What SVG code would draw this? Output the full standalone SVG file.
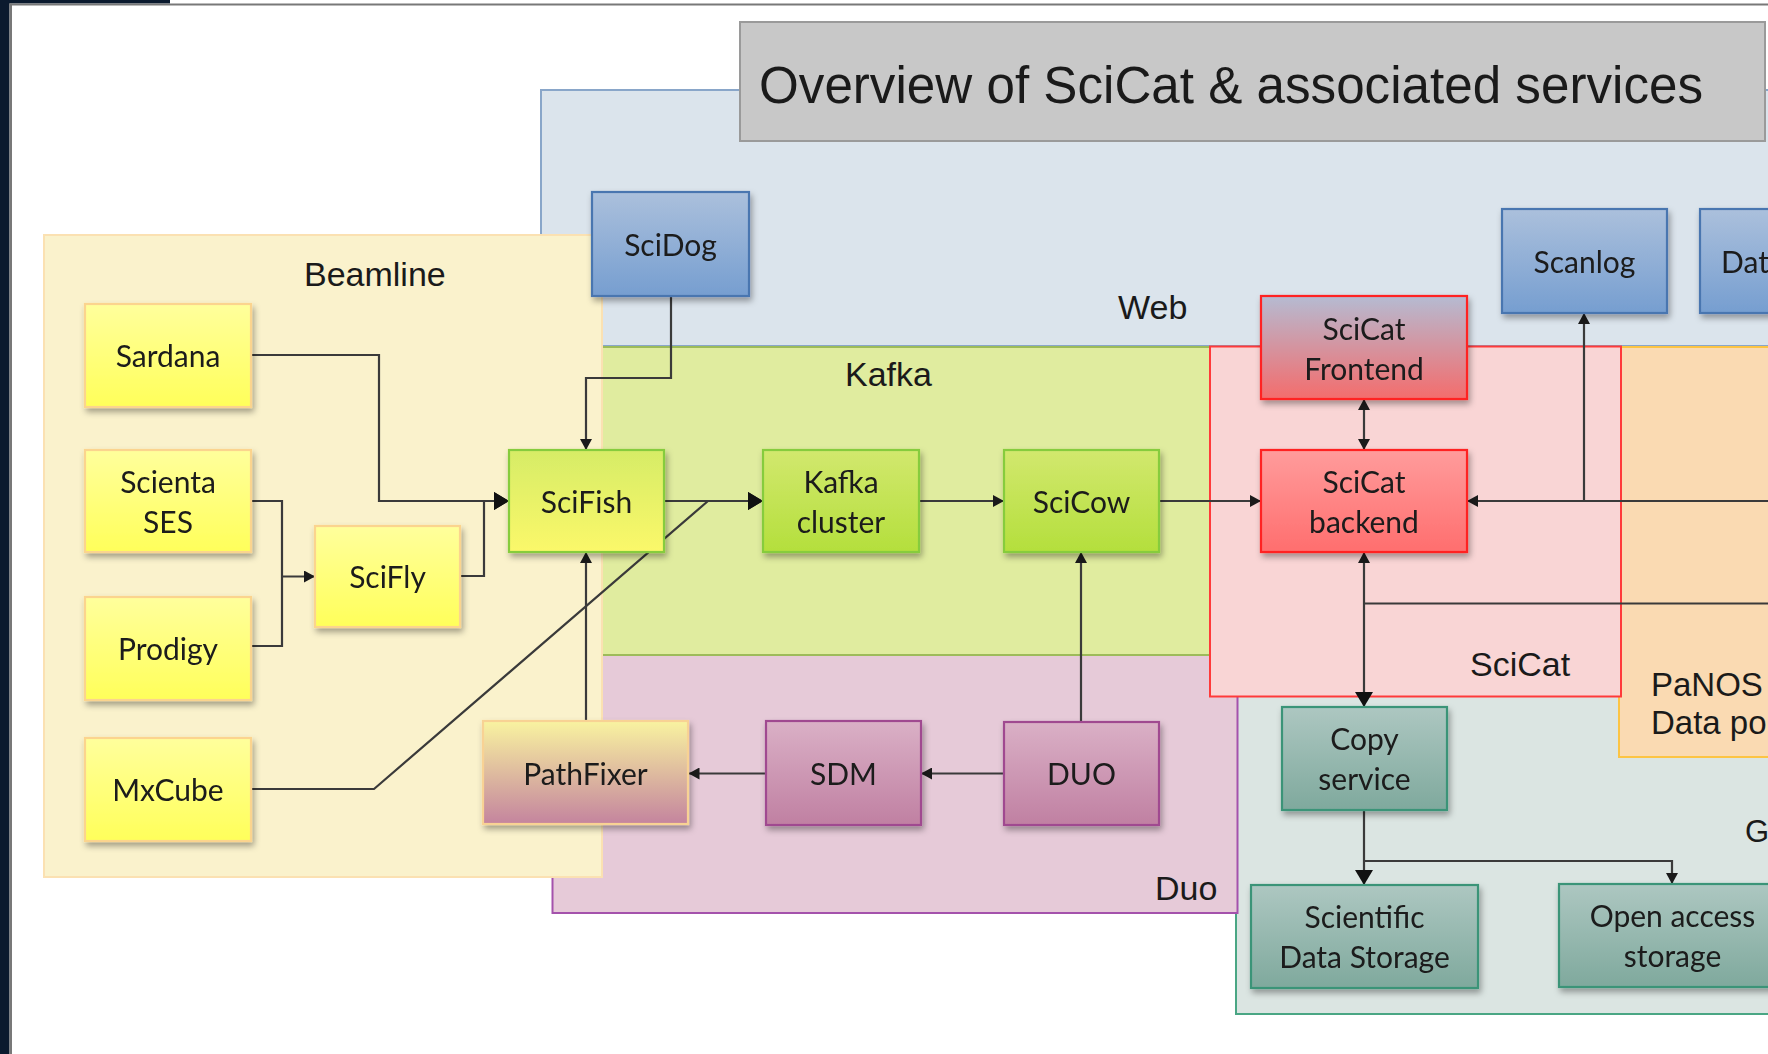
<svg xmlns="http://www.w3.org/2000/svg" width="1768" height="1054" viewBox="0 0 1768 1054">
<style>
.reg{stroke-width:2}
.rl{font-family:"Liberation Sans",Arial,sans-serif;font-size:34px;fill:#1a1a1a}
.nt{font-family:Lato,"Open Sans",sans-serif;font-size:30px;fill:#1a1a1a;text-anchor:middle}
.node rect{stroke-width:2.2}
.c{fill:none;stroke:#3a3a3a;stroke-width:2.2}
</style>
<defs>
<filter id="sh" x="-10%" y="-10%" width="130%" height="140%">
<feDropShadow dx="2" dy="4" stdDeviation="3" flood-color="#000" flood-opacity="0.35"/>
</filter>
<linearGradient id="gY" x1="0" y1="0" x2="0" y2="1"><stop offset="0" stop-color="#ffff9c"/><stop offset="1" stop-color="#ffff5a"/></linearGradient>
<linearGradient id="gB" x1="0" y1="0" x2="0" y2="1"><stop offset="0" stop-color="#abc0dc"/><stop offset="1" stop-color="#769ed0"/></linearGradient>
<linearGradient id="gG" x1="0" y1="0" x2="0" y2="1"><stop offset="0" stop-color="#d2e86e"/><stop offset="1" stop-color="#b4df3c"/></linearGradient>
<linearGradient id="gF" x1="0" y1="0" x2="0" y2="1"><stop offset="0" stop-color="#d6ec66"/><stop offset="1" stop-color="#fbf86a"/></linearGradient>
<linearGradient id="gR" x1="0" y1="0" x2="0" y2="1"><stop offset="0" stop-color="#ff9c9c"/><stop offset="1" stop-color="#ff6e6e"/></linearGradient>
<linearGradient id="gRF" x1="0" y1="0" x2="0" y2="1"><stop offset="0" stop-color="#b5bbd2"/><stop offset="1" stop-color="#f46c6c"/></linearGradient>
<linearGradient id="gP" x1="0" y1="0" x2="0" y2="1"><stop offset="0" stop-color="#dab0c6"/><stop offset="1" stop-color="#c080a2"/></linearGradient>
<linearGradient id="gPF" x1="0" y1="0" x2="0" y2="1"><stop offset="0" stop-color="#f9f3a0"/><stop offset="1" stop-color="#c4849e"/></linearGradient>
<linearGradient id="gT" x1="0" y1="0" x2="0" y2="1"><stop offset="0" stop-color="#adc7c1"/><stop offset="1" stop-color="#7fa99d"/></linearGradient>
<marker id="aS" markerUnits="userSpaceOnUse" markerWidth="11" markerHeight="12" refX="11" refY="6" orient="auto"><path d="M0,0 L11,6 L0,12 z" fill="#1a1a1a"/></marker>
<marker id="aSs" markerUnits="userSpaceOnUse" markerWidth="11" markerHeight="12" refX="0" refY="6" orient="auto"><path d="M11,0 L0,6 L11,12 z" fill="#1a1a1a"/></marker>
<marker id="aL" markerUnits="userSpaceOnUse" markerWidth="15" markerHeight="18" refX="15" refY="9" orient="auto"><path d="M0,0 L15,9 L0,18 z" fill="#111"/></marker>
</defs>

<rect x="0" y="0" width="1768" height="1054" fill="#ffffff"/>
<g id="frame">
<rect x="0" y="0" width="170" height="3.5" fill="#0b1a2e"/>
<rect x="0" y="0" width="9.5" height="1054" fill="#0b1a2e"/>
<rect x="9.5" y="3.5" width="1758.5" height="2" fill="#787878"/>
<rect x="9.5" y="3.5" width="2.5" height="1050.5" fill="#787878"/>
</g>

<g id="regions">
<g id="web"><rect class="reg" x="541" y="90" width="1240" height="256" fill="#dbe4ec" stroke="#89a6c9"/><text class="rl" x="1118" y="319">Web</text></g>
<g id="storage"><rect class="reg" x="1236" y="690" width="545" height="324" fill="#dbe5e2" stroke="#4aa684"/><text class="rl" x="1745" y="842" style="font-size:31px">G</text></g>
<g id="duo"><rect class="reg" x="552.5" y="655" width="685" height="258" fill="#e6cad8" stroke="#a452ac"/><text class="rl" x="1155" y="900">Duo</text></g>
<g id="kafka"><rect class="reg" x="560" y="347" width="660" height="308" fill="#e0ec9f" stroke="#9dbb5a"/><text class="rl" x="845" y="386">Kafka</text></g>
<g id="beamline"><rect class="reg" x="44" y="235" width="558" height="642" fill="#faf2cc" stroke="#fbe1b2"/><text class="rl" x="304" y="286">Beamline</text></g>
<g id="panosc"><rect class="reg" x="1619" y="347" width="160" height="410" fill="#fadab2" stroke="#fcc444"/><text class="rl" x="1651" y="696" style="font-size:33px">PaNOS</text><text class="rl" x="1651" y="734" style="font-size:33px">Data po</text></g>
<g id="scicat"><rect class="reg" x="1210" y="346.5" width="411" height="350" fill="#f9d5d5" stroke="#ff3a3a"/><text class="rl" x="1470" y="676">SciCat</text></g>
<g id="title"><rect x="740" y="22" width="1025" height="119" fill="#c8c8c8" stroke="#9a9a9a" stroke-width="2"/><text x="759" y="103" font-family="'Liberation Sans',Arial,sans-serif" font-size="51" fill="#1a1a1a" textLength="944" lengthAdjust="spacingAndGlyphs">Overview of SciCat &amp; associated services</text></g>
</g>

<g id="connectors">
<path class="c" d="M251,355 H379 V501 H509" marker-end="url(#aL)"/>
<path class="c" d="M460,576 H484 V501 H509" marker-end="url(#aL)"/>
<path class="c" d="M251,501 H282 V646 H251"/>
<path class="c" d="M282,576.5 H315" marker-end="url(#aS)"/>
<path class="c" d="M251,789 H374 L708,501 H763" marker-end="url(#aL)"/>
<path class="c" d="M664,501 H763" marker-end="url(#aL)"/>
<path class="c" d="M671,296 V378 H586 V450" marker-end="url(#aS)"/>
<path class="c" d="M586,721 V552" marker-end="url(#aS)"/>
<path class="c" d="M919,501 H1004" marker-end="url(#aS)"/>
<path class="c" d="M1159,501 H1261" marker-end="url(#aS)"/>
<path class="c" d="M1364,399 V450" marker-start="url(#aSs)" marker-end="url(#aS)"/>
<path class="c" d="M1768,501 H1467" marker-end="url(#aS)"/>
<path class="c" d="M1584,501 V313" marker-end="url(#aS)"/>
<path class="c" d="M1364,552 V707" marker-start="url(#aSs)" marker-end="url(#aL)"/>
<path class="c" d="M1364,603.5 H1768"/>
<path class="c" d="M1364,810 V885" marker-end="url(#aL)"/>
<path class="c" d="M1364,861 H1672 V884" marker-end="url(#aS)"/>
<path class="c" d="M1081,722 V552" marker-end="url(#aS)"/>
<path class="c" d="M1004,773.5 H921" marker-end="url(#aS)"/>
<path class="c" d="M766,773.5 H688.5" marker-end="url(#aS)"/>
</g>

<g id="nodes" filter="url(#sh)">
<g id="sardana" class="node"><rect x="85" y="304" width="166" height="103" fill="url(#gY)" stroke="#fbd48e"/><text class="nt" x="168" y="367">Sardana</text></g>
<g id="scienta" class="node"><rect x="85" y="450" width="166" height="102" fill="url(#gY)" stroke="#fbd48e"/><text class="nt" x="168" y="493">Scienta</text><text class="nt" x="168" y="533">SES</text></g>
<g id="prodigy" class="node"><rect x="85" y="597" width="166" height="103" fill="url(#gY)" stroke="#fbd48e"/><text class="nt" x="168" y="660">Prodigy</text></g>
<g id="mxcube" class="node"><rect x="85" y="738" width="166" height="103" fill="url(#gY)" stroke="#fbd48e"/><text class="nt" x="168" y="801">MxCube</text></g>
<g id="scifly" class="node"><rect x="315" y="526" width="145" height="101" fill="url(#gY)" stroke="#fbd48e"/><text class="nt" x="387.5" y="588">SciFly</text></g>
<g id="scifish" class="node"><rect x="509" y="450" width="155" height="102" fill="url(#gF)" stroke="#86cc3c"/><text class="nt" x="586.5" y="513">SciFish</text></g>
<g id="kafkacluster" class="node"><rect x="763" y="450" width="156" height="102" fill="url(#gG)" stroke="#86cc3c"/><text class="nt" x="841" y="493">Kafka</text><text class="nt" x="841" y="533">cluster</text></g>
<g id="scicow" class="node"><rect x="1004" y="450" width="155" height="102" fill="url(#gG)" stroke="#86cc3c"/><text class="nt" x="1081.5" y="513">SciCow</text></g>
<g id="scicatbackend" class="node"><rect x="1261" y="450" width="206" height="102" fill="url(#gR)" stroke="#ff2222"/><text class="nt" x="1364" y="493">SciCat</text><text class="nt" x="1364" y="533">backend</text></g>
<g id="scicatfrontend" class="node"><rect x="1261" y="296" width="206" height="103" fill="url(#gRF)" stroke="#ff2222"/><text class="nt" x="1364" y="340">SciCat</text><text class="nt" x="1364" y="380">Frontend</text></g>
<g id="scidog" class="node"><rect x="592" y="192" width="157" height="104" fill="url(#gB)" stroke="#4a76b0"/><text class="nt" x="670.5" y="256">SciDog</text></g>
<g id="scanlog" class="node"><rect x="1502" y="209" width="165" height="104" fill="url(#gB)" stroke="#4a76b0"/><text class="nt" x="1584.5" y="273">Scanlog</text></g>
<g id="dat" class="node"><rect x="1700" y="209" width="165" height="104" fill="url(#gB)" stroke="#4a76b0"/><text class="nt" x="1721" y="273" style="text-anchor:start">Dat</text></g>
<g id="pathfixer" class="node"><rect x="483" y="721" width="205" height="103" fill="url(#gPF)" stroke="#f8d294"/><text class="nt" x="585.5" y="785">PathFixer</text></g>
<g id="sdm" class="node"><rect x="766" y="721" width="155" height="104" fill="url(#gP)" stroke="#a04890"/><text class="nt" x="843.5" y="785">SDM</text></g>
<g id="duonode" class="node"><rect x="1004" y="722" width="155" height="103" fill="url(#gP)" stroke="#a04890"/><text class="nt" x="1081.5" y="785">DUO</text></g>
<g id="copyservice" class="node"><rect x="1282" y="707" width="165" height="103" fill="url(#gT)" stroke="#3a9478"/><text class="nt" x="1364.5" y="750">Copy</text><text class="nt" x="1364.5" y="790">service</text></g>
<g id="sds" class="node"><rect x="1251" y="885" width="227" height="103" fill="url(#gT)" stroke="#3a9478"/><text class="nt" x="1364.5" y="928">Scientific</text><text class="nt" x="1364.5" y="968">Data Storage</text></g>
<g id="openaccess" class="node"><rect x="1559" y="884" width="227" height="103" fill="url(#gT)" stroke="#3a9478"/><text class="nt" x="1672.5" y="927">Open access</text><text class="nt" x="1672.5" y="967">storage</text></g>
</g>
</svg>
